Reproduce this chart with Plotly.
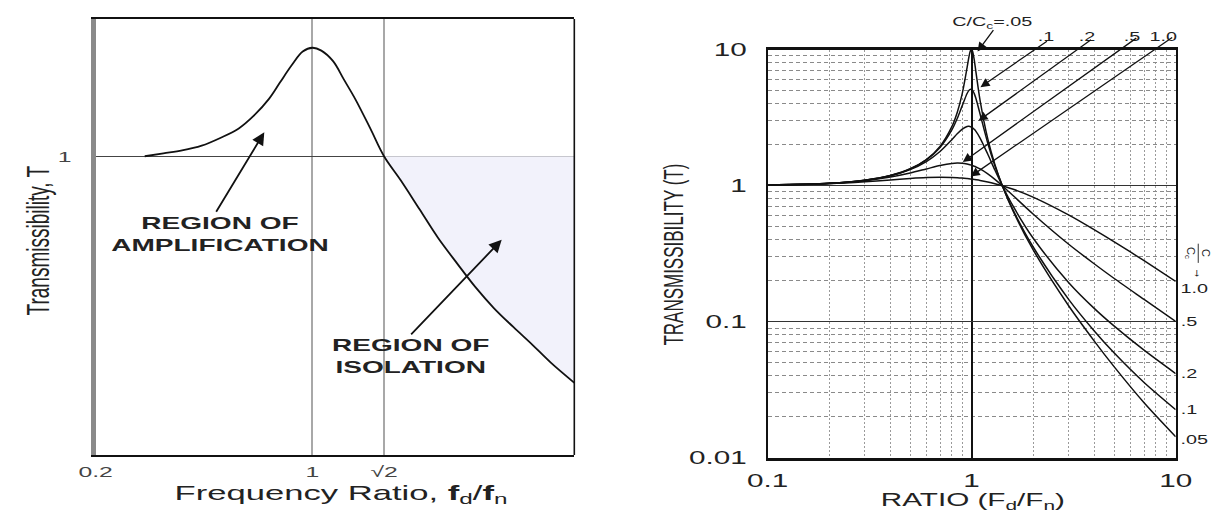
import plotly.graph_objects as go

# ---------------- data ----------------
# Left panel: schematic transmissibility curve
freq_ratio = [0.444, 0.486, 0.532, 0.585, 0.640, 0.700, 0.752, 0.811, 0.855, 0.905,
              0.954, 1.0, 1.044, 1.105, 1.164, 1.232, 1.323, 1.414, 1.533, 1.678,
              1.836, 2.010, 2.199, 2.406, 2.647, 2.897, 3.170, 3.553]
transmissibility = [1.0, 1.022, 1.044, 1.082, 1.146, 1.230, 1.350, 1.536, 1.734, 1.972,
                    2.180, 2.243, 2.196, 2.030, 1.772, 1.525, 1.230, 1.0, 0.836, 0.675,
                    0.545, 0.452, 0.378, 0.323, 0.280, 0.246, 0.215, 0.185]
left_xticks = [0.35, 1.0, 1.4142]
left_xticktext = ["0.2", "1", "√2"]
left_yticks = [1.0]
left_yticktext = ["1"]

# Right panel: transmissibility vs frequency ratio for several damping ratios
ratio = [0.1, 0.2, 0.3, 0.4, 0.5, 0.6, 0.7, 0.8, 0.85, 0.9, 0.95, 0.97, 0.98, 0.99, 1.0,
         1.01, 1.02, 1.03, 1.05, 1.1, 1.2, 1.3, 1.414, 1.6, 2, 3, 4, 5, 7, 10]
T_005 = [1.01, 1.042, 1.099, 1.19, 1.332, 1.558, 1.947, 2.72, 3.458, 4.776, 7.38, 8.85, 9.51,
         9.95, 10.05, 9.76, 9.16, 8.40, 6.85, 4.244, 2.208, 1.436, 1.0, 0.646, 0.339, 0.130,
         0.0718, 0.0466, 0.0254, 0.0143]
T_01 = [1.01, 1.042, 1.099, 1.189, 1.328, 1.547, 1.909, 2.571, 3.117, 3.882, 4.767, 5.023,
        5.096, 5.123, 5.099, 5.026, 4.908, 4.753, 4.373, 3.367, 2.052, 1.401, 1.0, 0.659,
        0.356, 0.145, 0.0853, 0.0589, 0.0358, 0.0226]
T_02 = [1.01, 1.041, 1.097, 1.184, 1.314, 1.505, 1.785, 2.180, 2.407, 2.611, 2.727, 2.733,
        2.726, 2.713, 2.693, 2.667, 2.634, 2.597, 2.509, 2.241, 1.704, 1.305, 1.0, 0.704,
        0.413, 0.193, 0.125, 0.0929, 0.0618, 0.0416]
T_05 = [1.01, 1.040, 1.090, 1.158, 1.240, 1.329, 1.409, 1.460, 1.468, 1.463, 1.444, 1.434,
        1.428, 1.421, 1.414, 1.407, 1.399, 1.391, 1.374, 1.328, 1.222, 1.114, 1.0, 0.844,
        0.620, 0.370, 0.266, 0.208, 0.146, 0.1005]
T_10 = [1.01, 1.036, 1.070, 1.104, 1.131, 1.149, 1.155, 1.150, 1.145, 1.138, 1.129, 1.125,
        1.122, 1.120, 1.118, 1.116, 1.114, 1.111, 1.106, 1.094, 1.066, 1.036, 1.0, 0.942,
        0.825, 0.608, 0.474, 0.387, 0.281, 0.198]
damping_names = ["C/Cc=.05", ".1", ".2", ".5", "1.0"]
end_labels = [".05", ".1", ".2", ".5", "1.0"]
right_xticks = [0.1, 1, 10]
right_xticktext = ["0.1", "1", "10"]
right_yticks = [0.01, 0.1, 1, 10]
right_yticktext = ["0.01", "0.1", "1", "10"]
minor_x = [0.2, 0.3, 0.4, 0.5, 0.6, 0.7, 0.8, 0.9, 2, 3, 4, 5, 6, 7, 8, 9]
minor_y = [0.02, 0.03, 0.04, 0.05, 0.06, 0.07, 0.08, 0.09,
           0.2, 0.3, 0.4, 0.5, 0.6, 0.7, 0.8, 0.9, 2, 3, 4, 5, 6, 7, 8, 9]

# ---------------- geometry ----------------
PAGE_W, PAGE_H = 1221, 520
OFF = 8                       # default page margin of the HTML body
W, H = PAGE_W - OFF, PAGE_H - 2 * OFF
STRETCH = 1.65                # the source lettering is widened horizontally
FONT = "Liberation Sans, Arial, Helvetica, sans-serif"


def px(x):
    return (x - OFF) / W


def py(y):
    return 1 - (y - OFF) / H


fig = go.Figure()

# ---- left panel ----
i0 = next(i for i, v in enumerate(freq_ratio) if v >= 1.414)
fig.add_trace(go.Scatter(x=freq_ratio[i0:], y=[1.0] * (len(freq_ratio) - i0),
                         mode="lines", line=dict(width=0, color="rgba(0,0,0,0)"),
                         xaxis="x", yaxis="y", hoverinfo="skip"))
fig.add_trace(go.Scatter(x=freq_ratio[i0:], y=transmissibility[i0:], mode="lines",
                         line=dict(width=0, color="rgba(0,0,0,0)"), fill="tonexty",
                         fillcolor="#f2f2fb", xaxis="x", yaxis="y", hoverinfo="skip"))
fig.add_trace(go.Scatter(x=freq_ratio, y=transmissibility, mode="lines",
                         line=dict(color="#111", width=1.8, shape="spline"),
                         xaxis="x", yaxis="y", name="T"))

# ---- right panel ----
for name, vals in zip(damping_names, [T_005, T_01, T_02, T_05, T_10]):
    fig.add_trace(go.Scatter(x=ratio, y=vals, mode="lines", name=name,
                             line=dict(color="#111", width=1.5, shape="spline", smoothing=0.8),
                             xaxis="x2", yaxis="y2"))

tickfont_l = dict(family=FONT, size=15, color="#444")
tickfont_r = dict(family=FONT, size=18, color="#222")

fig.update_layout(
    width=W, height=H, margin=dict(l=0, r=0, t=0, b=0),
    paper_bgcolor="white", plot_bgcolor="white", showlegend=False,
    font=dict(family=FONT, color="#222"),
    xaxis=dict(domain=[px(84), px(572)], anchor="y", type="log",
               range=[-0.456, 0.5505], tickmode="array", tickvals=left_xticks,
               ticktext=left_xticktext, tickfont=tickfont_l, ticks="",
               ticklabelstandoff=2,
               showgrid=True, gridcolor="#a8a8a8", gridwidth=2, zeroline=False,
               showline=True, linecolor="#111", linewidth=1.6, mirror=True),
    yaxis=dict(domain=[py(463), py(9)], anchor="x", type="log",
               range=[-0.966, 0.444], tickmode="array", tickvals=left_yticks,
               ticktext=left_yticktext, tickfont=tickfont_l, ticks="",
               ticklabelstandoff=16,
               showgrid=True, gridcolor="#444", gridwidth=1.4, zeroline=False,
               showline=True, linecolor="#8a8a8a", linewidth=5, mirror=False),
    xaxis2=dict(domain=[px(769), px(1185)], anchor="y2", type="log", range=[-1, 1],
                tickmode="array", tickvals=right_xticks, ticktext=right_xticktext,
                tickfont=tickfont_r, ticks="", ticklabelstandoff=5,
                showgrid=True, gridcolor="#111", gridwidth=2.2, zeroline=False,
                showline=True, linecolor="#111", linewidth=3, mirror=True,
                minor=dict(tickmode="array", tickvals=minor_x, showgrid=True,
                           gridcolor="#9a9a9a", gridwidth=1.3, griddash="2px,2px", ticks="")),
    yaxis2=dict(domain=[py(466), py(41)], anchor="x2", type="log", range=[-2, 1],
                tickmode="array", tickvals=right_yticks, ticktext=right_yticktext,
                tickfont=tickfont_r, ticks="", ticklabelstandoff=15,
                showgrid=True, gridcolor="#333", gridwidth=1.4, zeroline=False,
                showline=True, linecolor="#111", linewidth=2.2, mirror=True,
                minor=dict(tickmode="array", tickvals=minor_y, showgrid=True,
                           gridcolor="#8a8a8a", gridwidth=1, griddash="4px,3px", ticks="")),
)

# right border of left panel (thin black; the left edge is the thick grey axis line)
fig.add_shape(type="line", xref="x domain", yref="y domain", x0=1, x1=1, y0=0, y1=1,
              line=dict(color="#111", width=1.6))
# fraction bar of the rotated C/Cc label
fig.add_shape(type="line", xref="paper", yref="paper", x0=px(1208), x1=px(1208),
              y0=py(263), y1=py(243), line=dict(color="#333", width=1))

ann = []


def text(x, y, s, size, angle=0, bold=False, color="#222"):
    ann.append(dict(x=px(x), y=py(y), xref="paper", yref="paper", text=s, showarrow=False,
                    textangle=angle, xanchor="center", yanchor="middle",
                    font=dict(family=FONT, size=size, color=color,
                              weight="bold" if bold else "normal")))


def arrow(tail, tip, width=1.3, size=1.0, head=2):
    ann.append(dict(x=px(tip[0]), y=py(tip[1]), xref="paper", yref="paper", text="",
                    showarrow=True, arrowhead=head, arrowsize=size, arrowwidth=width,
                    arrowcolor="#111", ax=(tail[0] - tip[0]), ay=(tail[1] - tip[1]),
                    standoff=0, startstandoff=0))


# left panel texts
text(26, 240, "Transmissibility, T", 19, angle=-90)
text(334, 504, "Frequency Ratio, <b>f</b><sub>d</sub>/<b>f</b><sub>n</sub>", 21)
text(211, 233, "REGION OF<br>AMPLIFICATION", 17, bold=True)
text(405, 360, "REGION OF<br>ISOLATION", 17, bold=True)
arrow((207, 208), (256, 127), width=1.8, size=1.4)
arrow((406, 335), (498, 239), width=1.8, size=1.4)

# right panel texts
text(673, 254, "TRANSMISSIBILITY (T)", 17, angle=-90)
text(978, 511, "RATIO (F<sub>d</sub>/F<sub>n</sub>)", 18)
text(998, 13, "C/C<sub>c</sub>=.05", 12)
for lab, xx in zip(damping_names[1:], [1053, 1095, 1140, 1173]):
    text(xx, 28, lab, 12)
arrow((1000, 20), (983, 43), size=1.4)
arrow((1054, 33), (986, 80), size=1.4)
arrow((1098, 33), (984, 115), size=1.4)
arrow((1143, 33), (968, 158), size=1.4)
arrow((1179, 33), (976, 173), size=1.4)

for lab, xx, yy in zip(end_labels, [1204, 1199, 1199, 1199, 1204], [447, 416, 379, 325, 290]):
    text(xx, yy, lab, 12)
text(1207, 253, "C<br>C<sub>c</sub>", 11, angle=90)
text(1207, 273, "↓", 11)

fig.update_layout(annotations=ann)

# widen the labels horizontally (about their anchor), as in the source image;
# the small rotated C/Cc fraction is left as it is
js = ("(function(){var gd=document.getElementById('{plot_id}');var S=" + str(STRETCH) + ";"
      "var ts=gd.querySelectorAll('text');"
      "for(var i=0;i<ts.length;i++){var t=ts[i];"
      "if(!t.textContent||!t.textContent.trim())continue;"
      "var bb;try{bb=t.getBBox();}catch(e){continue;}if(!bb.width)continue;"
      "var m=t.getCTM();var rot=Math.abs(m.b)>Math.abs(m.a);"
      "var fs=parseFloat(t.style.fontSize||'0');if(rot&&fs<12)continue;"
      "var anc=t.getAttribute('text-anchor')||'start';var tr=t.getAttribute('transform')||'';var s;"
      "if(rot){var cy=bb.y+bb.height/2;s=' translate(0,'+cy+') scale(1,'+S+') translate(0,'+(-cy)+')';}"
      "else{var cx=anc==='end'?bb.x+bb.width:(anc==='middle'?bb.x+bb.width/2:bb.x);"
      "s=' translate('+cx+',0) scale('+S+',1) translate('+(-cx)+',0)';}"
      "t.setAttribute('transform',tr+s);}})();")

fig.write_html("out.html", config={"displayModeBar": False}, post_script=js)
